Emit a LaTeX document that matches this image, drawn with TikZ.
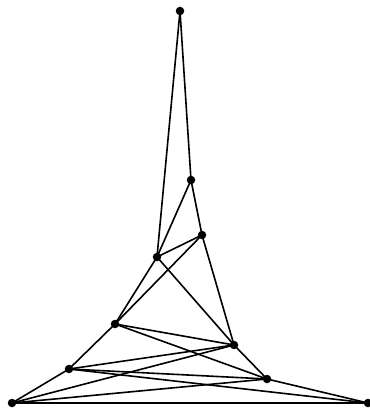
\documentclass[tikz,border=0pt]{standalone}
\begin{document}
\begin{tikzpicture}[x=1pt,y=-1pt,
  vtx/.style={circle,fill=black,inner sep=0pt,minimum size=8.5pt},
  edge/.style={line width=1.6pt}]
\useasboundingbox (0,0) rectangle (369,411);
\node[vtx] (A) at (180,11) {};
\node[vtx] (B) at (191,180) {};
\node[vtx] (C) at (202,235) {};
\node[vtx] (D) at (157,257) {};
\node[vtx] (E) at (115,324) {};
\node[vtx] (F) at (234,345) {};
\node[vtx] (G) at (69,369) {};
\node[vtx] (H) at (267,379) {};
\node[vtx] (I) at (12,403) {};
\node[vtx] (J) at (368,403) {};
\foreach \a/\b in {A/B,A/D,B/D,B/C,C/D,C/E,C/F,D/E,D/F,E/F,E/H,E/G,F/G,F/I,F/H,G/H,G/J,G/I,H/I,H/J,I/J}
  \draw[edge] (\a.center) -- (\b.center);
\end{tikzpicture}
\end{document}
